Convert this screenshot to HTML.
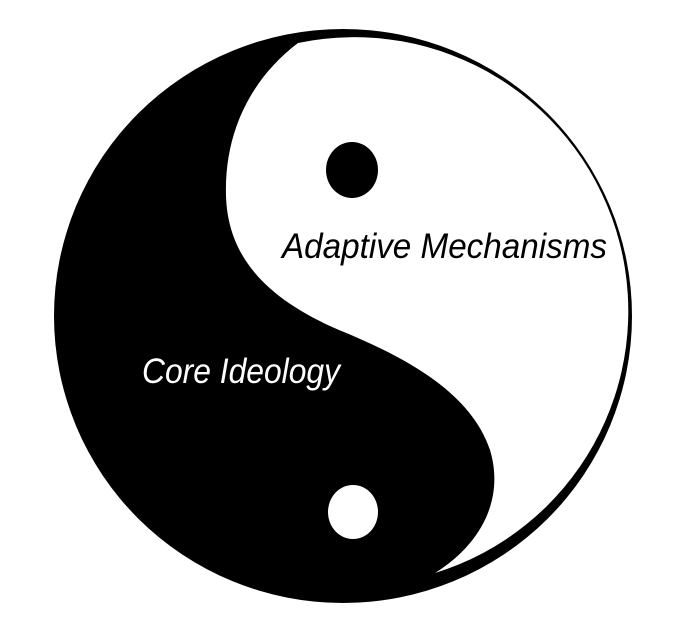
<!DOCTYPE html>
<html><head><meta charset="utf-8"><style>html,body{margin:0;padding:0;background:#fff}svg{display:block}</style></head>
<body>
<svg width="678" height="626" viewBox="0 0 678 626" xmlns="http://www.w3.org/2000/svg">
<rect width="678" height="626" fill="#fff"/>
<ellipse cx="343" cy="316" rx="289" ry="287" fill="#000"/>
<path d="M298,43 A274 274 0 0 1 435,573 C480,545 505,500 490,450 C470,390 400,355 339,330 C270,300 228,260 226,196 C224,130 253,77 298,43 Z" fill="#fff"/>
<ellipse cx="352" cy="170" rx="26" ry="28" fill="#000"/>
<ellipse cx="353" cy="512" rx="25" ry="27" fill="#fff"/>
<text x="282" y="258" font-family="Liberation Sans, sans-serif" font-style="italic" font-size="35" fill="#000" textLength="325" lengthAdjust="spacingAndGlyphs">Adaptive Mechanisms</text>
<text x="142" y="383" font-family="Liberation Sans, sans-serif" font-style="italic" font-size="35" fill="#fff" textLength="198" lengthAdjust="spacingAndGlyphs">Core Ideology</text>
</svg>
</body></html>
